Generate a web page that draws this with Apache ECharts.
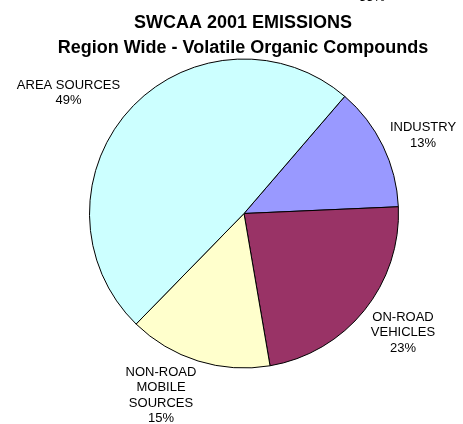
<!DOCTYPE html>
<html>
<head>
<meta charset="utf-8">
<script src="https://cdn.jsdelivr.net/npm/echarts@6/dist/echarts.min.js"></script>
<style>html,body{margin:0;padding:0;background:#fff;}#c{width:463px;height:424px;}</style>
</head>
<body>
<div id="c"></div>
<script>
const categories = ['INDUSTRY', 'ON-ROAD\nVEHICLES', 'NON-ROAD\nMOBILE\nSOURCES', 'AREA SOURCES'];
const values = [13, 23, 15, 49];
const colors = ['#9999FF', '#993366', '#FFFFCC', '#CCFFFF'];
const labelPos = [[423, 135.5], [403, 332.5], [161, 395.5], [68.5, 93]];

const chart = echarts.init(document.getElementById('c'), null, {renderer: 'canvas'});
chart.setOption({
  animation: false,
  backgroundColor: '#fff',
  title: {
    text: 'SWCAA 2001 EMISSIONS\nRegion Wide - Volatile Organic Compounds',
    left: 238, top: 6, textAlign: 'center',
    textStyle: {fontFamily: 'Liberation Sans', fontWeight: 'bold', fontSize: 18, lineHeight: 25, color: '#000'}
  },
  graphic: [{
    type: 'text', left: 359, top: -9,
    style: {text: '55%', fontFamily: 'Liberation Sans', fontSize: 13, fill: '#000'}
  }],
  series: [{
    type: 'pie',
    center: [244, 213.5],
    radius: 154.5,
    startAngle: 49.3,
    clockwise: true,
    data: categories.map((c, i) => ({name: c, value: values[i], itemStyle: {color: colors[i]}})),
    itemStyle: {borderColor: '#000', borderWidth: 1},
    label: {
      show: true, position: 'outside', overflow: 'none', alignTo: 'none',
      formatter: p => p.name + '\n' + Math.round(p.percent) + '%',
      fontFamily: 'Liberation Sans', fontSize: 13, lineHeight: 15.5, color: '#000', align: 'center'
    },
    labelLine: {show: false},
    labelLayout: function (params) {
      const p = labelPos[params.dataIndex];
      return {x: p[0], y: p[1], align: 'center', verticalAlign: 'middle', width: 130};
    },
    emphasis: {disabled: true}
  }]
});
</script>
</body>
</html>
